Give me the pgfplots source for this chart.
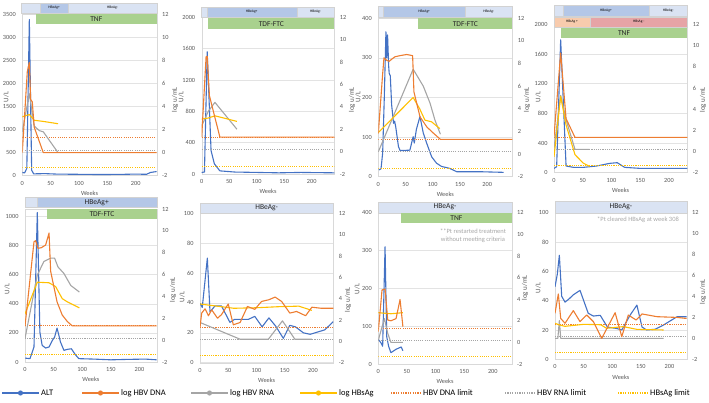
\documentclass[border=0pt]{standalone}
\usepackage{pgfplots}
\pgfplotsset{compat=1.18}
\usepackage{fontspec}
\setmainfont{Carlito}

\definecolor{alt}{HTML}{4472C4}
\definecolor{dna}{HTML}{ED7D31}
\definecolor{rna}{HTML}{A5A5A5}
\definecolor{hbs}{HTML}{FFC000}
\definecolor{eplus}{HTML}{B4C7E7}
\definecolor{eminus}{HTML}{DAE3F3}
\definecolor{trt}{HTML}{A9D18E}
\definecolor{splus}{HTML}{F8CBAD}
\definecolor{sminus}{HTML}{E6A4A6}
\definecolor{tickgray}{HTML}{595959}
\definecolor{notegray}{HTML}{A6A6A6}

\pgfplotsset{
  leftax/.style={
    scale only axis, anchor=south west,
    xmin=0, ymin=0,
    xtick={0,50,100,150,200},
    axis line style={gray!30},
    tick style={draw=none},
    ymajorgrids, grid style={gray!22, line width=0.5pt},
    ticklabel style={font=\fontsize{6.3}{7}\selectfont, text=tickgray},
    xticklabel style={yshift=-2pt},
    yticklabel style={xshift=-3pt},
    xlabel={Weeks},
    xlabel style={font=\fontsize{6.3}{7}\selectfont, text=tickgray, yshift=1pt},
    /pgf/number format/assume math mode=true,
    /pgf/number format/1000 sep={},
    scaled y ticks=false,
  },
  rightax/.style={
    scale only axis, anchor=south west,
    xmin=0, ymin=-2, ymax=12,
    ytick={-2,0,...,12},
    axis y line*=right, axis x line=none,
    axis line style={draw=none}, tick style={draw=none},
    ticklabel style={font=\fontsize{6.3}{7}\selectfont, text=tickgray},
    yticklabel style={xshift=2pt},
    /pgf/number format/assume math mode=true,
  },
  altline/.style={alt, line width=1.1pt, line join=round},
  dnaline/.style={dna, line width=1.1pt, line join=round},
  rnaline/.style={rna, line width=1.1pt, line join=round},
  hbsline/.style={hbs, line width=1.1pt, line join=round},
  dnalim/.style={dna, dash pattern=on 1.1pt off 1.1pt, line width=0.9pt},
  rnalim/.style={rna, dash pattern=on 1.1pt off 1.1pt, line width=0.9pt},
  hbslim/.style={hbs, dash pattern=on 1.1pt off 1.1pt, line width=0.9pt},
}

\begin{document}
\begin{tikzpicture}
\path[use as bounding box] (0pt,0pt) rectangle (709pt,402pt);

% ---------- Panel 1 ----------
\begin{axis}[leftax, at={(22.3pt,226.3pt)}, width=134.4pt, height=161.7pt,
  xmax=237, ymax=3500, ytick={0,500,...,3500}]
\addplot[altline] coordinates {(0,70)(4,60)(8,160)(12.4,3380)(16.5,120)(20,40)(40,45)(60,35)(100,30)(140,25)(180,30)(200,35)(219,30)(226,70)(237,90)};
\end{axis}
\begin{axis}[rightax, at={(22.3pt,226.3pt)}, width=134.4pt, height=161.7pt, xmax=237]
\addplot[dnalim] coordinates {(0,1.3)(237,1.3)};
\addplot[rnalim] coordinates {(0,0.2)(237,0.2)};
\addplot[hbslim] coordinates {(0,-1.3)(237,-1.3)};
\addplot[rnaline] coordinates {(0,1.8)(12.4,5.1)(21,2.3)(30,1.9)(37,1.8)(63,0)};
\addplot[hbsline] coordinates {(0,3.1)(12.4,3.3)(21,2.8)(37,2.7)(63,2.5)};
\addplot[dnaline] coordinates {(0,0)(8.8,7.0)(12.4,7.8)(14.7,4.6)(17.6,4.4)(21,2.2)(37,0)(237,0)};
\end{axis}

% ---------- Panel 2 ----------
\begin{axis}[leftax, at={(201.7pt,228pt)}, width=132.6pt, height=156.7pt,
  xmax=241, ymax=2000, ytick={0,400,...,2000}]
\addplot[altline] coordinates {(0,20)(5,25)(10,1560)(17,300)(23,130)(33,40)(60,25)(100,20)(140,15)(180,20)(241,15)};
\end{axis}
\begin{axis}[rightax, at={(201.7pt,228pt)}, width=132.6pt, height=156.7pt, xmax=241]
\addplot[dnalim] coordinates {(0,1.3)(241,1.3)};
\addplot[rnalim] coordinates {(0,0.2)(241,0.2)};
\addplot[hbslim] coordinates {(0,-1.3)(241,-1.3)};
\addplot[rnaline] coordinates {(0,2.3)(12,3.6)(24,4.4)(64,2.0)};
\addplot[hbsline] coordinates {(0,2.9)(12,3.0)(24,3.2)(64,2.7)};
\addplot[dnaline] coordinates {(0,1.3)(8,8.5)(10,8.5)(14,5.0)(33,1.3)(241,1.3)};
\end{axis}

% ---------- Panel 3 ----------
\begin{axis}[leftax, at={(378.3pt,225.3pt)}, width=134pt, height=158.4pt,
  xmax=246, ymax=400, ytick={0,100,...,400}]
\addplot[altline] coordinates {(1,17)(5,20)(8,60)(11,200)(14,366)(15.5,300)(17,358)(19,280)(20,261)(22,255)(24.5,181)(28,135)(30,140)(32,126)(37,76)(40,66)(58,67)(62,90)(64,101)(66,85)(70,120)(76.5,152)(82.6,110)(89,84)(98,50)(107,34)(116,26)(131,21)(144,12.6)(186,12.6)(230,11)};
\end{axis}
\begin{axis}[rightax, at={(378.3pt,225.3pt)}, width=134pt, height=158.4pt, xmax=246]
\addplot[dnalim] coordinates {(0,1.3)(246,1.3)};
\addplot[rnalim] coordinates {(0,0.2)(246,0.2)};
\addplot[hbslim] coordinates {(0,-1.3)(246,-1.3)};
\addplot[rnaline] coordinates {(0,0.2)(64,7.5)(82.6,6.0)(95,4.5)(104,3.0)(114,1.75)};
\addplot[hbsline] coordinates {(0,1.9)(64,5.0)(76,4.0)(85.6,3.0)(97.8,2.85)(113,2.25)};
\addplot[dnaline] coordinates {(0,1.8)(8,7.1)(10.4,8.5)(15,8.3)(20,8.2)(25,8.4)(30.6,8.6)(40,8.7)(52,8.8)(63,8.7)(65.4,5.5)(76.5,3.3)(89,2.4)(100,1.9)(114,1.3)(246,1.3)};
\end{axis}

% ---------- Panel 4 ----------
\begin{axis}[leftax, at={(554pt,229.3pt)}, width=133.3pt, height=148.4pt,
  xmax=232, ymax=2000, ytick={0,400,...,2000}]
\addplot[altline] coordinates {(0,58)(4.6,81)(11.6,1790)(21,90)(34,72)(51,72)(74,90)(97,126)(110,135)(123,72)(150,58)(232,58)};
\end{axis}
\begin{axis}[rightax, at={(554pt,229.3pt)}, width=133.3pt, height=148.4pt, xmax=232]
\addplot[dnalim] coordinates {(0,1.3)(232,1.3)};
\addplot[rnalim] coordinates {(0,0.2)(232,0.2)};
\addplot[hbslim] coordinates {(0,-1.3)(232,-1.3)};
\addplot[rnaline] coordinates {(0,0.3)(11.6,5.3)(21,3.0)(36.5,0.2)(62,0.2)};
\addplot[hbsline] coordinates {(0,-0.5)(11.6,5.2)(21,2.5)(36.5,-0.3)(51,-1.1)(62,-1.4)};
\addplot[dnaline] coordinates {(0,1.4)(11.6,9.3)(21,3.1)(36.5,1.33)(232,1.33)};
\end{axis}

% ---------- Panel 5 ----------
\begin{axis}[leftax, at={(25pt,40pt)}, width=131.7pt, height=153pt,
  xmax=230, ymax=1051, ytick={0,200,...,1000}]
\addplot[altline] coordinates {(0,27)(8.7,23)(15.7,103)(21.5,1027)(26,205)(30,114)(36,96)(42,103)(47.7,148)(51.7,171)(56,233)(62,137)(68,80)(74,87)(81,91)(88,50)(94,23)(120,20)(150,15)(180,18)(210,20)(230,15)};
\end{axis}
\begin{axis}[rightax, at={(25pt,40pt)}, width=131.7pt, height=153pt, xmax=230]
\addplot[dnalim] coordinates {(0,1.3)(230,1.3)};
\addplot[rnalim] coordinates {(0,0.2)(230,0.2)};
\addplot[hbslim] coordinates {(0,-1.3)(230,-1.3)};
\addplot[rnaline] coordinates {(0,0.15)(21.5,5.95)(33,7.2)(44.8,7.5)(51.7,7.5)(57.6,6.7)(68,6.1)(80,5.0)(95,4.4)};
\addplot[hbsline] coordinates {(0,2.4)(21.5,5.3)(42,5.25)(53.5,4.9)(65,3.8)(74,3.5)(95,2.95)};
\addplot[dnaline] coordinates {(0,1.27)(15.7,9.0)(18.6,9.1)(22.7,8.4)(28.5,8.46)(36,8.7)(42,9.8)(44.8,6.3)(50,5.0)(56,3.5)(65,2.3)(74,1.7)(82.6,1.3)(230,1.3)};
\end{axis}

% ---------- Panel 6 ----------
\begin{axis}[leftax, at={(200pt,39.3pt)}, width=133.3pt, height=149.4pt,
  xmax=236, ymax=100, ytick={0,20,...,100}]
\addplot[altline] coordinates {(0,39.7)(4,37)(13,70)(17.7,34)(26.5,38)(38,38)(53,27)(61,29)(85.5,29)(97,31)(110,24)(122,30)(134,24.5)(147.5,16.3)(159,25)(169,24)(183,20)(195,19)(221,22)(236,27.5)};
\end{axis}
\begin{axis}[rightax, at={(200pt,39.3pt)}, width=133.3pt, height=149.4pt, xmax=236]
\addplot[dnalim] coordinates {(0,1.3)(236,1.3)};
\addplot[rnalim] coordinates {(0,0.2)(236,0.2)};
\addplot[hbslim] coordinates {(0,-1.3)(236,-1.3)};
\addplot[rnaline] coordinates {(0,1.77)(71,0.2)(121,0.2)(146,1.92)(168,0.2)(198,0.2)};
\addplot[hbsline] coordinates {(0,3.5)(30,3.3)(60,3.1)(100,3.15)(140,3.25)(175,3.3)(198,2.9)};
\addplot[dnaline] coordinates {(0,1.33)(3,2.65)(9,3.05)(15,2.4)(20.6,2.96)(31,2.17)(38,2.5)(50,3.5)(59,1.55)(71,1.77)(84,3.27)(97,3.0)(109,3.74)(122,3.9)(133,4.15)(144.5,3.74)(159,2.65)(171,2.8)(187,2.4)(198,3.2)(215,3.1)(236,3.1)};
\end{axis}

% ---------- Panel 7 ----------
\begin{axis}[leftax, at={(378.3pt,38pt)}, width=133.4pt, height=151.3pt,
  xmax=233, ymax=400, ytick={0,100,...,400}]
\addplot[altline] coordinates {(0,65)(4.7,56)(7.6,47)(11.8,310)(14.7,72)(18,47)(22,30)(31,39)(40,45)(43,35)};
\end{axis}
\begin{axis}[rightax, at={(378.3pt,38pt)}, width=133.4pt, height=151.3pt, xmax=233]
\addplot[dnalim] coordinates {(0,1.3)(233,1.3)};
\addplot[rnalim] coordinates {(0,0.2)(233,0.2)};
\addplot[hbslim] coordinates {(0,-1.3)(233,-1.3)};
\addplot[rnaline] coordinates {(0,0.2)(10.6,2.2)(16.5,0.84)(22,0)(43,0)};
\addplot[hbsline] coordinates {(0,2.75)(10.6,2.7)(22,2.65)(43,2.75)};
\addplot[dnaline] coordinates {(0,1.0)(6.5,4.85)(11.8,4.94)(16.5,2.07)(22,2.0)(31,2.2)(38,3.97)(43,1.45)};
\end{axis}

% ---------- Panel 8 ----------
\begin{axis}[leftax, at={(555pt,42.7pt)}, width=131.7pt, height=146.6pt,
  xmax=230, ymax=100, ytick={0,20,...,100}]
\addplot[altline] coordinates {(0,49.5)(4,58)(7.6,71)(11.7,43)(17.5,39)(24,41)(32,44)(43.7,47)(58,31.4)(67,29.5)(79,30)(91.5,22)(108,21)(116.6,20)(131,30)(143,37)(152,22)(160,20)(175,20.5)(189.5,23.4)(213,29)(230,29)};
\end{axis}
\begin{axis}[rightax, at={(555pt,42.7pt)}, width=131.7pt, height=146.6pt, xmax=230]
\addplot[dnalim] coordinates {(0,1.3)(230,1.3)};
\addplot[rnalim] coordinates {(0,0.2)(230,0.2)};
\addplot[hbslim] coordinates {(0,-1.3)(230,-1.3)};
\addplot[rnaline] coordinates {(0,0)(5,0)(7.6,1.7)(10,0)(189.5,0)};
\addplot[hbsline] coordinates {(0,1.44)(7.6,1.28)(17.5,1.15)(50,1.34)(80,1.3)(90,0.96)(119.5,1.12)(143,0.86)(189.5,0.8)};
\addplot[dnaline] coordinates {(0,2.4)(5.8,4.24)(10,1.9)(17.5,1.44)(32,2.65)(43.7,1.6)(55.4,2.23)(67,1.6)(81.6,0)(105,2.45)(116.6,0.16)(128,2.23)(141.7,1.75)(152,2.33)(178,2.07)(213,2.0)(230,1.9)};
\end{axis}

% ---------- status / treatment bands ----------
\tikzset{band/.style={draw=gray!35, line width=0.3pt},
  tiny/.style={font=\fontsize{3.6}{4}\selectfont, text=black},
  bandtxt/.style={font=\fontsize{7.5}{8}\selectfont, text=black!85}}
% panel 1
\filldraw[fill=eminus, band] (20.7pt,388.7pt) rectangle (40pt,399.3pt);
\filldraw[fill=eplus, band] (40pt,388.7pt) rectangle (68.3pt,399.3pt);
\filldraw[fill=eminus, band] (68.3pt,388.7pt) rectangle (156.7pt,399.3pt);
\fill[trt] (36pt,378pt) rectangle (156.7pt,388pt);
\node[tiny] at (54.2pt,394pt) {HBeAg+};
\node[tiny] at (112.5pt,394pt) {HBeAg-};
\node[bandtxt] at (96.3pt,383pt) {TNF};
% panel 2
\filldraw[fill=eminus, band] (201pt,384.7pt) rectangle (206.7pt,395.3pt);
\filldraw[fill=eplus, band] (206.7pt,384.7pt) rectangle (296.7pt,395.3pt);
\filldraw[fill=eminus, band] (296.7pt,384.7pt) rectangle (334.3pt,395.3pt);
\fill[trt] (208.3pt,373pt) rectangle (334.3pt,383.7pt);
\node[tiny] at (251.7pt,390pt) {HBeAg+};
\node[tiny] at (315.5pt,390pt) {HBeAg-};
\node[bandtxt] at (271.3pt,378.4pt) {TDF-FTC};
% panel 3
\filldraw[fill=eminus, band] (378.3pt,384.7pt) rectangle (383.3pt,396.3pt);
\filldraw[fill=eplus, band] (383.3pt,384.7pt) rectangle (465pt,396.3pt);
\filldraw[fill=eminus, band] (465pt,384.7pt) rectangle (512.3pt,396.3pt);
\fill[trt] (418.3pt,372.7pt) rectangle (512.3pt,383.7pt);
\node[tiny] at (424.2pt,390.5pt) {HBeAg+};
\node[tiny] at (488.7pt,390.5pt) {HBeAg-};
\node[bandtxt] at (465.3pt,378.2pt) {TDF-FTC};
% panel 4
\filldraw[fill=eminus, band] (554pt,386pt) rectangle (562.7pt,397pt);
\filldraw[fill=eplus, band] (562.7pt,386pt) rectangle (649.3pt,397pt);
\filldraw[fill=eminus, band] (649.3pt,386pt) rectangle (687.3pt,397pt);
\filldraw[fill=splus, band] (554pt,374.7pt) rectangle (590pt,385.3pt);
\filldraw[fill=sminus, band] (590pt,374.7pt) rectangle (687.3pt,385.3pt);
\fill[trt] (560.7pt,363.7pt) rectangle (687.3pt,373.7pt);
\node[tiny] at (606pt,391.5pt) {HBeAg+};
\node[tiny] at (668.3pt,391.5pt) {HBeAg-};
\node[tiny] at (572pt,380pt) {HBsAg +};
\node[tiny] at (638.7pt,380pt) {HBsAg -};
\node[bandtxt] at (624pt,368.7pt) {TNF};
% panel 5
\filldraw[fill=eminus, band] (25pt,194.7pt) rectangle (36.7pt,204.7pt);
\filldraw[fill=eplus, band] (36.7pt,194.7pt) rectangle (156.7pt,204.7pt);
\fill[trt] (47.3pt,182.7pt) rectangle (156.7pt,192.7pt);
\node[bandtxt] at (96.7pt,199.7pt) {HBeAg+};
\node[bandtxt] at (102pt,187.7pt) {TDF-FTC};
% panel 6
\filldraw[fill=eminus, band] (200pt,188.7pt) rectangle (333.3pt,199.3pt);
\node[bandtxt] at (266.7pt,194pt) {HBeAg-};
% panel 7
\filldraw[fill=eminus, band] (378.3pt,189.3pt) rectangle (511.7pt,200.3pt);
\fill[trt] (401pt,178.7pt) rectangle (511.7pt,188.7pt);
\node[bandtxt] at (445pt,194.8pt) {HBeAg-};
\node[bandtxt] at (456.4pt,183.7pt) {TNF};
% panel 8
\filldraw[fill=eminus, band] (555pt,189.3pt) rectangle (686.7pt,201.3pt);
\node[bandtxt] at (620.9pt,195.3pt) {HBeAg-};

% notes
\node[font=\fontsize{6.5}{8}\selectfont, text=notegray, align=center] at (473pt,166.5pt)
  {**Pt restarted treatment\\without meeting criteria};
\node[font=\fontsize{6.5}{8}\selectfont, text=notegray] at (638pt,182pt) {*Pt cleared HBsAg at week 308};

% axis titles
\tikzset{ytitle/.style={rotate=90, font=\fontsize{7}{8}\selectfont, text=tickgray}}
\foreach \x/\y in {6/305, 181/305, 358/305, 538/305, 7/113, 182/105, 357/113, 538/114}
  \node[ytitle] at (\x pt,\y pt) {U/L};
\foreach \x/\y in {175/302, 352/302, 527/302, 703/302, 173/112, 348/102, 525/114, 703/110}
  \node[ytitle] at (\x pt,\y pt) {log u/mL};

% legend
\tikzset{lgtxt/.style={font=\fontsize{8.5}{10}\selectfont, anchor=west, inner sep=1pt}}
\foreach \c/\a/\t in {alt/2/ALT, dna/82/log HBV DNA, rna/191/log HBV RNA, hbs/300/log HBsAg}{
  \draw[color=\c, line width=1.5pt] (\a pt,9pt) -- ++(37pt,0pt);
  \fill[color=\c] ({\a pt+18.5pt},9pt) circle (2.6pt);
  \node[lgtxt] at ({\a pt+38pt},9pt) {\t};
}
\foreach \c/\a/\t in {dna/391/HBV DNA limit, rna/505/HBV RNA limit, hbs/618/HBsAg limit}{
  \draw[color=\c, dash pattern=on 1.2pt off 1.2pt, line width=1.1pt] (\a pt,9pt) -- ++(30pt,0pt);
  \node[lgtxt] at ({\a pt+31pt},9pt) {\t};
}
\end{tikzpicture}
\end{document}
